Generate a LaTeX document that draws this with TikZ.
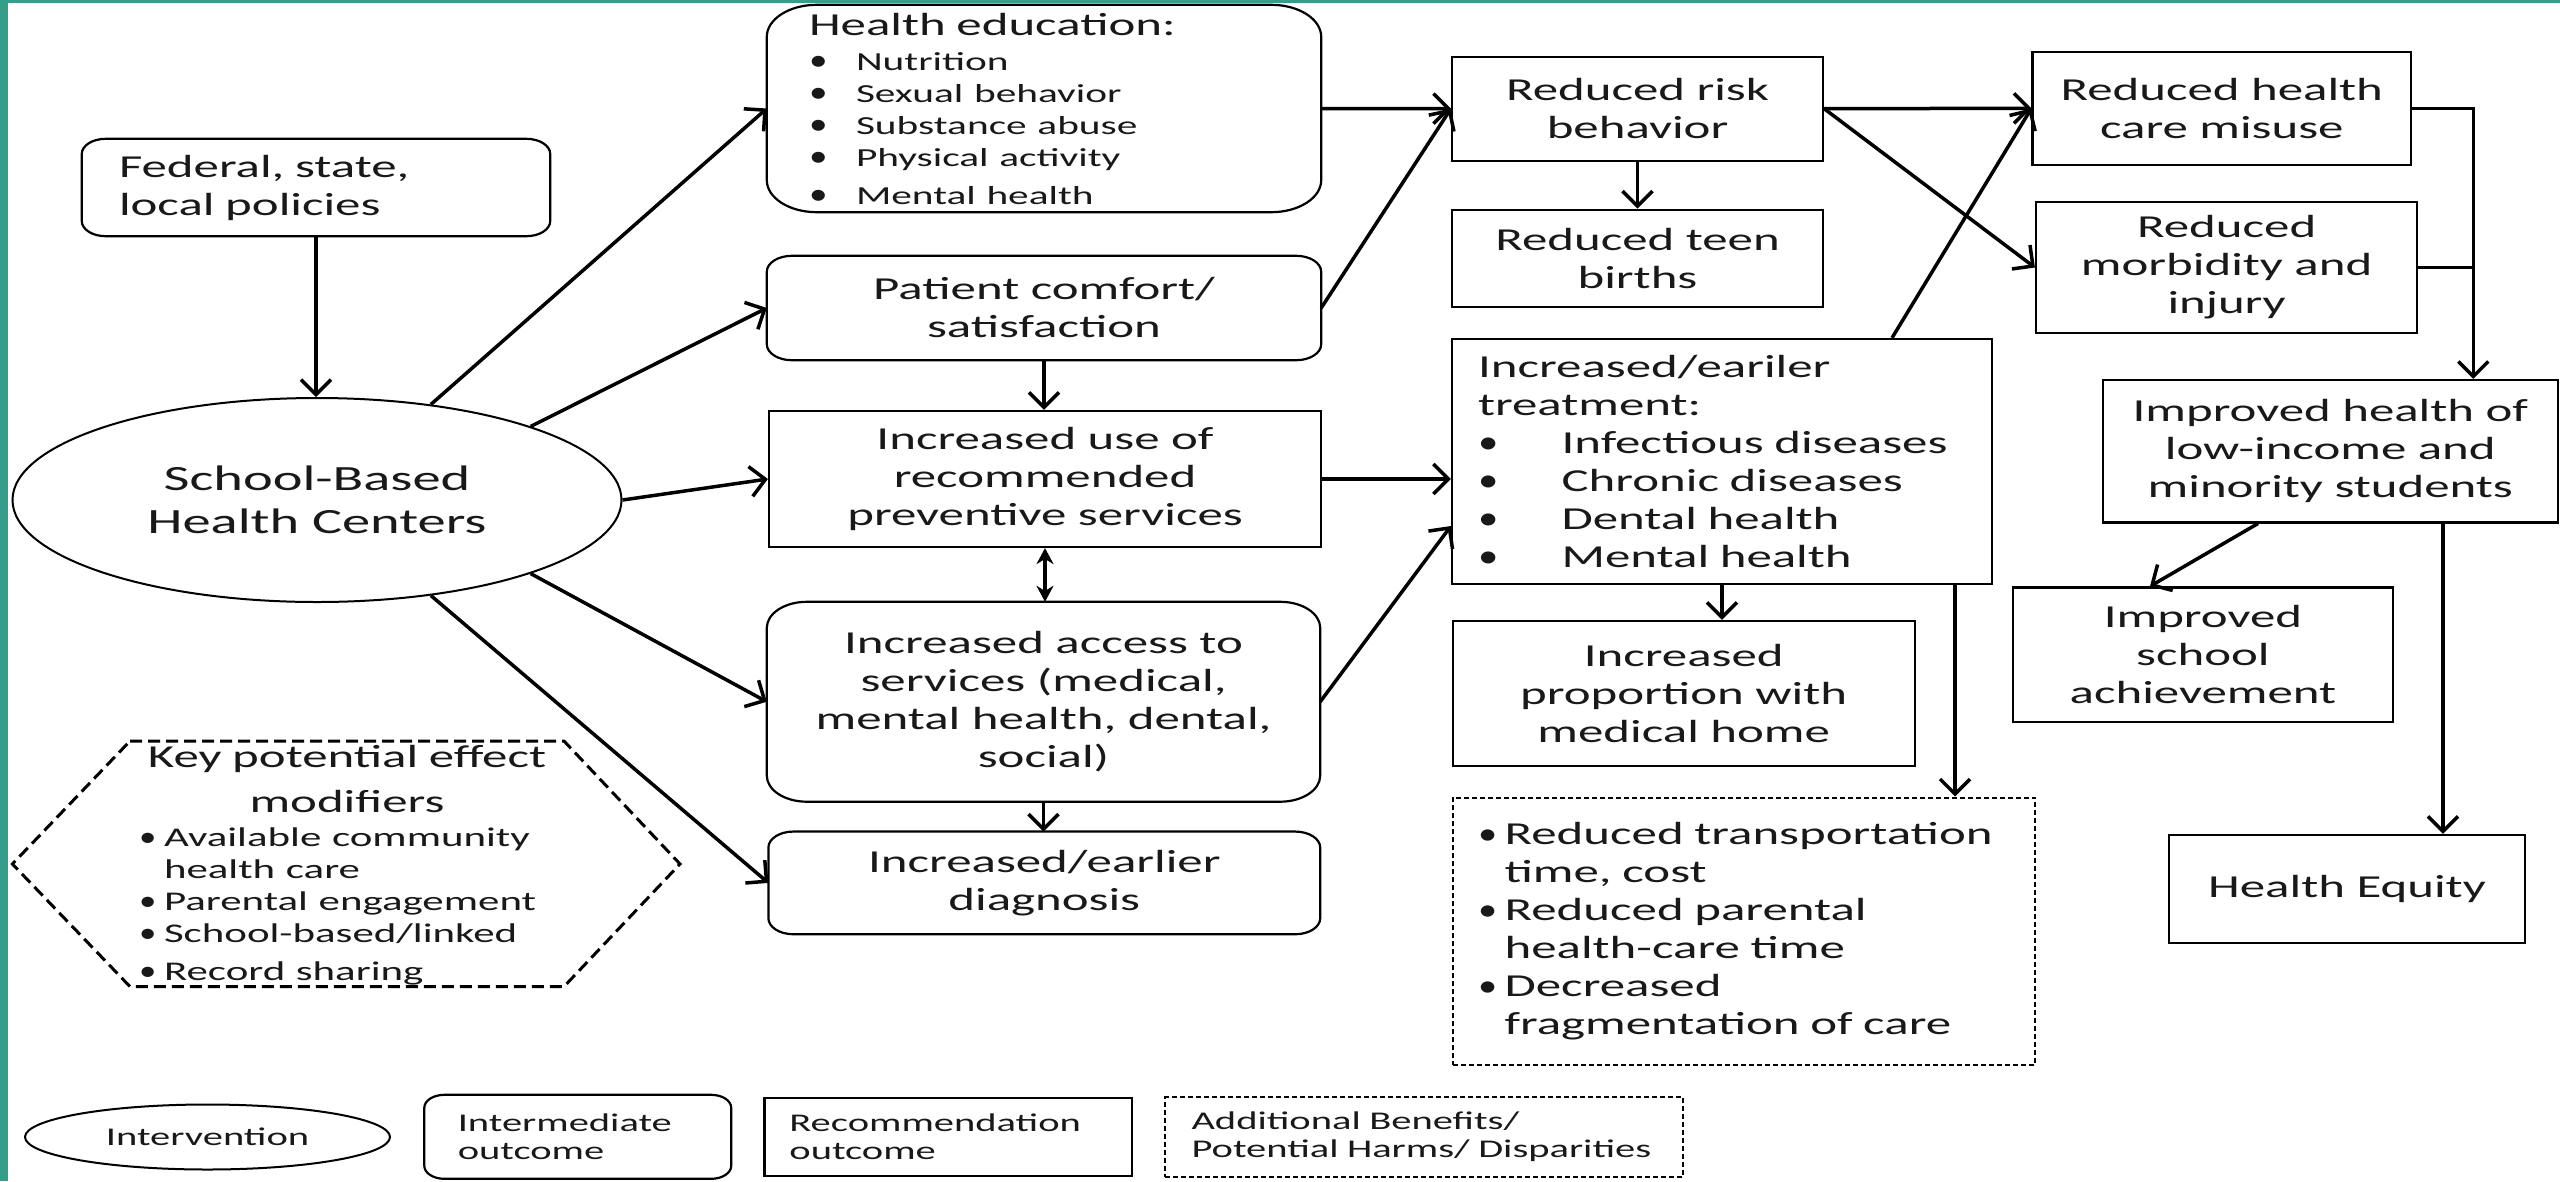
\documentclass[tikz,border=0pt]{standalone}
\usepackage{fontspec}
\setmainfont{Carlito}[FakeStretch=1.59]
\newfontfamily\bulf{Carlito}[FakeStretch=1.2]
\usetikzlibrary{arrows.meta,shapes.geometric,calc}
\definecolor{bordteal}{RGB}{52,158,138}
\newcommand{\mainf}{\fontsize{32}{38}\selectfont}
\newcommand{\bigf}{\fontsize{35.5}{43}\selectfont}
\newcommand{\itemf}{\fontsize{26}{32}\selectfont}
\newcommand{\hexf}{\fontsize{27}{32}\selectfont}
\newcommand{\legf}{\fontsize{25.5}{28}\selectfont}
\newcommand{\hedb}{\makebox[47pt][l]{\fontsize{31}{32}\bulf •}}
\newcommand{\trb}{\makebox[83.6pt][l]{\fontsize{34}{38}\bulf •}}
\newcommand{\benb}{\makebox[26.6pt][l]{\fontsize{32}{38}\bulf •}}
\newcommand{\hexb}{\makebox[25pt][l]{\fontsize{29}{32}\bulf •}}
\newcommand{\erbox}[3]{%
  \draw[line width=2.2pt] ([xshift=#2]#1.north west) -- ([xshift=-#2]#1.north east)
    arc[start angle=90,end angle=0,x radius=#2,y radius=#3]
    -- ([yshift=#3]#1.south east)
    arc[start angle=0,end angle=-90,x radius=#2,y radius=#3]
    -- ([xshift=#2]#1.south west)
    arc[start angle=270,end angle=180,x radius=#2,y radius=#3]
    -- ([yshift=-#3]#1.north west)
    arc[start angle=180,end angle=90,x radius=#2,y radius=#3]
    -- cycle;}
\begin{document}
\begin{tikzpicture}[x=1pt,y=-1pt,
  bx/.style={draw, line width=2.2pt, rectangle, inner sep=0pt, align=center, font=\mainf, text=black!90},
  rbx/.style={rectangle, inner sep=0pt, align=center, font=\mainf, text=black!90},
  conn/.style={line width=3.5pt, -{Straight Barb[length=15pt,width=30pt]}},
  dconn/.style={line width=3.2pt, {Stealth[length=16pt,width=17pt]}-{Stealth[length=16pt,width=17pt]}},
  plain/.style={line width=3.5pt},
  dotbox/.style={draw, dash pattern=on 5pt off 3pt, line width=2pt},
  hexline/.style={dash pattern=on 12pt off 6pt, line width=3pt}]
\useasboundingbox (0,0) rectangle (2560,1181);
\fill[white] (0,0) rectangle (2560,1181);
\fill[bordteal] (0,0) rectangle (7.5,1181);
\fill[bordteal] (0,0) rectangle (2560,3);

% intervention
\node[draw, ellipse, line width=2pt, minimum width=609pt, minimum height=204pt, inner sep=0pt, align=center, font=\bigf, text=black!90] (sbhc) at (317,500) {School-Based\\Health Centers};
\node[rbx, minimum width=468pt, minimum height=97pt, text width=394pt, align=left] (fed) at (316,187.5) {Federal, state,\\local policies};
\erbox{fed}{24pt}{15pt}

% intermediate outcomes
\node[rbx, minimum width=554pt, minimum height=207pt, text width=470pt, align=left] (hed) at (1044,108.5)
 {Health education:\\[3pt]\itemf\hedb Nutrition\\\hedb Sexual behavior\\\hedb Substance abuse\\\hedb Physical activity\\\hedb Mental health};
\erbox{hed}{50pt}{32pt}
\node[rbx, minimum width=554pt, minimum height=104pt] (pat) at (1044,308) {Patient comfort/\\satisfaction};
\erbox{pat}{25pt}{16pt}
\node[bx, minimum width=552pt, minimum height=136pt] (use) at (1045,479) {Increased use of\\recommended\\preventive services};
\node[rbx, minimum width=553pt, minimum height=199.5pt] (acc) at (1043.5,701.75) {Increased access to\\services (medical,\\mental health, dental,\\social)};
\erbox{acc}{40pt}{26pt}
\node[rbx, minimum width=551.4pt, minimum height=102.3pt] (diag) at (1044.3,882.9) {Increased/earlier\\diagnosis};
\erbox{diag}{25pt}{16pt}

% recommendation outcomes
\node[bx, minimum width=371pt, minimum height=104pt] (risk) at (1637.5,108.65) {Reduced risk\\behavior};
\node[bx, minimum width=371pt, minimum height=97.3pt] (teen) at (1637.5,258.35) {Reduced teen\\births};
\node[bx, minimum width=540pt, minimum height=244.6pt, text width=488pt, align=left] (treat) at (1722,461.3)
 {Increased/eariler\\treatment:\\\trb Infectious diseases\\\trb Chronic diseases\\\trb Dental health\\\trb Mental health};
\node[bx, minimum width=462pt, minimum height=145pt] (home) at (1683.7,693.5) {Increased\\proportion with\\medical home};
\node[rbx, dotbox, minimum width=582.3pt, minimum height=267.5pt, text width=531.7pt, align=left] (ben) at (1743.85,931.25)
 {\benb Reduced transportation\\\hspace*{26.6pt}time, cost\\\benb Reduced parental\\\hspace*{26.6pt}health-care time\\\benb Decreased\\\hspace*{26.6pt}fragmentation of care};
\node[bx, minimum width=378.5pt, minimum height=113.3pt] (mis) at (2221.75,108.35) {Reduced health\\care misuse};
\node[bx, minimum width=381.3pt, minimum height=131.6pt] (morb) at (2226.65,267.5) {Reduced\\morbidity and\\injury};
\node[bx, minimum width=455pt, minimum height=142.4pt] (imp) at (2330.3,451.2) {Improved health of\\low-income and\\minority students};
\node[bx, minimum width=380.2pt, minimum height=134.6pt] (sch) at (2202.9,654.7) {Improved\\school\\achievement};
\node[bx, minimum width=356pt, minimum height=108pt] (eq) at (2347,889) {Health Equity};

% effect modifiers
\draw[hexline] (130,741) -- (564,741) -- (680,864) -- (564,986.6) -- (130,986.6) -- (12.4,864) -- cycle;
\node[rbx, text width=416pt, align=left] (hex) at (347,865.6)
 {\makebox[416pt]{Key potential effect}\\[6.6pt]\makebox[416pt]{modifiers}\\[2.2pt]\hexf
  \hexb Available community\\\hspace*{25pt}health care\\\hexb Parental engagement\\\hexb School-based/linked\\\hexb Record sharing};

% legend
\node[draw, ellipse, line width=2pt, minimum width=365pt, minimum height=65pt, inner sep=0pt, font=\legf, text=black!90] (lint0) at (207.5,1137) {Intervention};
\node[rbx, font=\legf, minimum width=306.5pt, minimum height=83.6pt, text width=240pt, align=left] (lint) at (577.75,1136.8) {Intermediate\\outcome};
\erbox{lint}{20pt}{13pt}
\node[bx, font=\legf, minimum width=367.5pt, minimum height=77.8pt, text width=317.7pt, align=left] (lrec) at (948.25,1136.9) {Recommendation\\outcome};
\node[rbx, dotbox, font=\legf, minimum width=518pt, minimum height=79.5pt, text width=465pt, align=left] (ladd) at (1424,1136.75) {Additional Benefits/\\Potential Harms/ Disparities};

% connectors
\draw[conn] (fed.south) -- (fed.south |- sbhc.north);
\draw[conn] (sbhc.40) -- (hed.west);
\draw[conn] (sbhc.19) -- (pat.west);
\draw[conn] (sbhc.east) -- (use.west);
\draw[conn] (sbhc.-19) -- (acc.west);
\draw[conn] (sbhc.-40) -- (diag.west);
\draw[conn] (hed.east) -- (risk.west);
\draw[conn] (pat.east) -- (risk.west);
\draw[conn] (pat.south) -- (pat.south |- use.north);
\draw[dconn] (use.south) -- (use.south |- acc.north);
\draw[conn] (acc.south) -- (acc.south |- diag.north);
\draw[conn] (use.east) -- (use.east -| treat.west);
\draw[conn] (acc.east) -- ([yshift=-64.7pt]treat.west);
\draw[conn] (risk.south) -- (risk.south |- teen.north);
\draw[conn] (risk.east) -- (mis.west);
\draw[conn] (risk.east) -- (morb.west);
\draw[conn] ([xshift=170pt]treat.north) -- (mis.west);
\coordinate (jn) at ([xshift=143pt]imp.north);
\draw[conn] (mis.east) -| (jn);
\draw[plain] (morb.east) -- (morb.east -| jn);
\draw[conn] (treat.south) -- (treat.south |- home.north);
\coordinate (tb) at ([xshift=233pt]treat.south);
\draw[conn] (tb) -- (tb |- ben.north);
\draw[conn] ([xshift=-72.3pt]imp.south) -- ([xshift=-52.9pt]sch.north);
\coordinate (ib) at ([xshift=112.7pt]imp.south);
\draw[conn] (ib) -- (ib |- eq.north);
\end{tikzpicture}
\end{document}
